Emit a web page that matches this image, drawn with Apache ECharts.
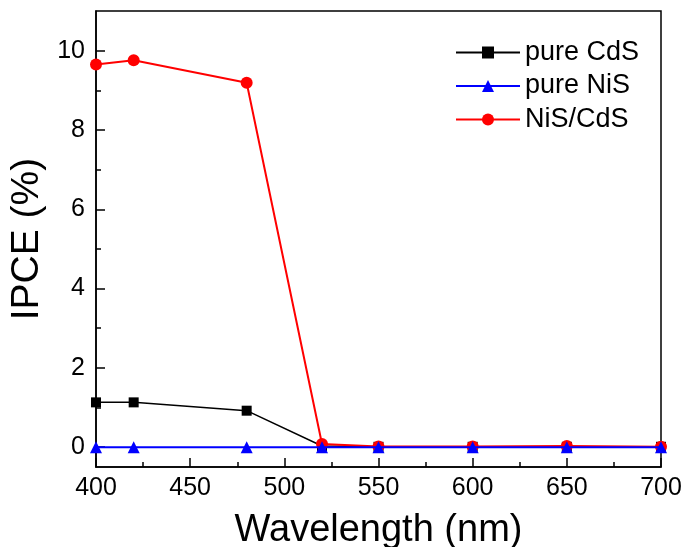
<!DOCTYPE html>
<html>
<head>
<meta charset="utf-8">
<script src="https://cdn.jsdelivr.net/npm/echarts@6/dist/echarts.min.js"></script>
<style>
  html, body { margin: 0; padding: 0; background: #fff; }
  #chart { width: 687px; height: 547px; }
</style>
</head>
<body>
<div id="chart"></div>
<script>
// Excitation wavelengths (nm)
const wavelengths = [400, 420, 480, 520, 550, 600, 650, 700];

// IPCE (%) for each sample
const pureCdS = [1.13, 1.13, 0.92, 0.03, 0.01, 0.01, 0.01, 0.01];
const pureNiS = [0.0, 0.0, 0.0, 0.0, 0.0, 0.0, 0.0, 0.0];
const nisCdS  = [9.65, 9.76, 9.19, 0.08, 0.02, 0.02, 0.03, 0.01];

// Axis tick positions
const yMajorTicks = [0, 2, 4, 6, 8, 10];
const yMinorTicks = [1, 3, 5, 7, 9];

const seriesNames = ['pure CdS', 'pure NiS', 'NiS/CdS'];

const FONT = '"Liberation Sans", Arial, Helvetica, sans-serif';

function pairs(values) {
  return wavelengths.map((w, i) => [w, values[i]]);
}

const chart = echarts.init(document.getElementById('chart'), null, { renderer: 'canvas' });

chart.setOption({
  backgroundColor: '#ffffff',
  animation: false,
  textStyle: { fontFamily: FONT, color: '#000' },
  grid: {
    left: 96, right: 26, top: 11, bottom: 80,
    show: true, borderColor: '#000', borderWidth: 1.5,
    containLabel: false,
    outerBoundsMode: 'none'
  },
  legend: {
    orient: 'vertical',
    left: 450,
    top: 34,
    itemWidth: 64,
    itemHeight: 15,
    itemGap: 6.5,
    data: seriesNames,
    textStyle: { fontFamily: FONT, fontSize: 27, color: '#000' }
  },
  xAxis: {
    type: 'value',
    min: 400, max: 700, interval: 50,
    name: 'Wavelength (nm)',
    nameLocation: 'middle',
    nameGap: 45,
    nameTextStyle: { fontFamily: FONT, fontSize: 38, color: '#000' },
    axisLine: { show: true, onZero: false, lineStyle: { color: '#000', width: 1.5 } },
    axisTick: { show: true, inside: true, length: 9, lineStyle: { color: '#000', width: 1.5 } },
    minorTick: { show: true, splitNumber: 2, length: 5, lineStyle: { color: '#000', width: 1.5 } },
    axisLabel: { fontFamily: FONT, fontSize: 25, color: '#000', margin: 9 },
    splitLine: { show: false },
    minorSplitLine: { show: false }
  },
  yAxis: [
    {
      type: 'value',
      min: -0.5, max: 11,
      name: 'IPCE (%)',
      nameLocation: 'middle',
      nameGap: 48,
      nameTextStyle: { fontFamily: FONT, fontSize: 39, color: '#000' },
      axisLine: { show: true, onZero: false, lineStyle: { color: '#000', width: 1.5 } },
      axisTick: { show: true, inside: true, length: 9, customValues: yMajorTicks,
                  lineStyle: { color: '#000', width: 1.5 } },
      axisLabel: { fontFamily: FONT, fontSize: 25, color: '#000', margin: 11,
                   customValues: yMajorTicks },
      splitLine: { show: false }
    },
    {
      type: 'value',
      min: -0.5, max: 11,
      position: 'left',
      axisLine: { show: false },
      axisTick: { show: true, inside: true, length: 5, customValues: yMinorTicks,
                  lineStyle: { color: '#000', width: 1.5 } },
      axisLabel: { show: false },
      splitLine: { show: false }
    }
  ],
  series: [
    {
      name: 'pure CdS',
      type: 'line',
      data: pairs(pureCdS),
      symbol: 'rect',
      symbolSize: 10,
      z: 2,
      color: '#000000',
      lineStyle: { color: '#000000', width: 1.5 },
      itemStyle: { color: '#000000' }
    },
    {
      name: 'pure NiS',
      type: 'line',
      data: pairs(pureNiS),
      symbol: 'triangle',
      symbolSize: 12,
      z: 4,
      color: '#0000ff',
      lineStyle: { color: '#0000ff', width: 2 },
      itemStyle: { color: '#0000ff' }
    },
    {
      name: 'NiS/CdS',
      type: 'line',
      data: pairs(nisCdS),
      symbol: 'circle',
      symbolSize: 12,
      z: 3,
      color: '#ff0000',
      lineStyle: { color: '#ff0000', width: 2 },
      itemStyle: { color: '#ff0000' }
    }
  ]
});
</script>
</body>
</html>
